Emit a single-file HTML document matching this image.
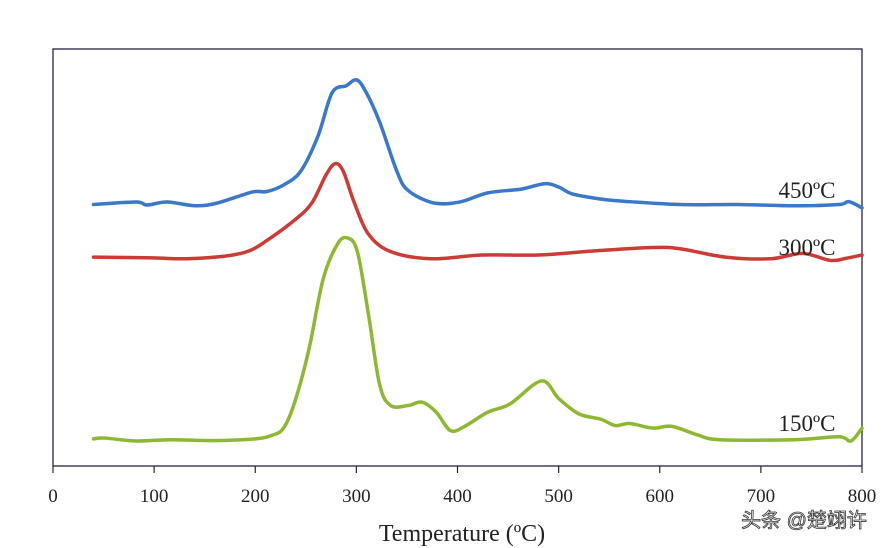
<!DOCTYPE html>
<html><head><meta charset="utf-8"><style>
html,body{margin:0;padding:0;background:#fff;}
svg{display:block;}
</style></head><body>
<svg id="chart" width="890" height="548" xmlns="http://www.w3.org/2000/svg">
<rect x="0" y="0" width="890" height="548" fill="#fff"/>
<rect x="53" y="49" width="809" height="417" fill="none" stroke="#2a2040" stroke-width="1.3"/>
<g id="ticks"></g>
<g id="series"></g>
<text x="462" y="541" text-anchor="middle" font-family="Liberation Serif, serif" font-size="24" fill="#222">Temperature (ºC)</text>
<text x="807" y="198" text-anchor="middle" font-family="Liberation Serif, serif" font-size="23" fill="#222">450ºC</text>
<text x="807" y="255" text-anchor="middle" font-family="Liberation Serif, serif" font-size="23" fill="#222">300ºC</text>
<text x="807" y="431" text-anchor="middle" font-family="Liberation Serif, serif" font-size="23" fill="#222">150ºC</text>
<text x="804" y="527" text-anchor="middle" font-family="Liberation Sans, Noto Sans CJK SC, sans-serif" font-size="20" fill="#fff" stroke="#333" stroke-width="0.8">头条 @楚翊许</text>
</svg>
<script>
const xTicks = [0,100,200,300,400,500,600,700,800];
const blueT = [40,82,93,113,141,163,197,211,228,245,262,276,290,300,309,323,340,351,376,402,430,463,486,500,514,542,564,620,677,733,777,787,800];
const blueV = [62.7,63.3,62.6,63.3,62.4,63.1,65.7,65.8,67.4,70.7,79.1,89.5,91.2,92.6,89.9,82.5,70.7,66.1,63.1,63.3,65.5,66.4,67.7,66.9,65.2,64.0,63.5,62.7,62.7,62.4,62.7,63.4,61.9];
const redT = [40,99,132,172,194,211,239,256,270,279,287,298,312,334,374,424,480,536,592,620,665,710,741,769,786,800];
const redV = [50.1,49.9,49.7,50.4,51.6,54.0,59.0,63.1,69.8,72.5,70.7,63.1,55.6,51.4,49.7,50.6,50.6,51.6,52.4,52.1,50.1,49.7,51.0,49.3,49.9,50.6];
const greenT = [40,51,82,116,160,200,217,228,239,253,267,281,291,301,312,323,334,351,365,379,393,407,430,452,483,500,520,542,556,570,593,612,638,660,733,777,789,800];
const greenV = [6.5,6.7,6.0,6.3,6.1,6.5,7.4,9.1,15.3,27.9,44.7,53.1,54.7,51.4,36.3,19.5,14.5,14.5,15.3,12.9,8.5,9.5,12.9,14.9,20.4,16.2,12.5,11.2,9.7,10.2,9.1,9.5,7.4,6.3,6.3,7.0,6.0,9.1];

const NS = "http://www.w3.org/2000/svg";
function xs(t){ return 53 + (t/800)*809; }
function ys(v){ return 466 - (v/100)*417; }

const tg = document.getElementById('ticks');
xTicks.forEach(t=>{
  const l = document.createElementNS(NS,'line');
  l.setAttribute('x1',xs(t)); l.setAttribute('x2',xs(t));
  l.setAttribute('y1',466); l.setAttribute('y2',473);
  l.setAttribute('stroke','#2a2040'); l.setAttribute('stroke-width','1.2');
  
  
  tg.appendChild(l);
  const tx = document.createElementNS(NS,'text');
  tx.setAttribute('x',xs(t)); tx.setAttribute('y',502);
  tx.setAttribute('text-anchor','middle');
  tx.setAttribute('font-family','Liberation Serif, serif');
  tx.setAttribute('font-size','19'); tx.setAttribute('fill','#222');
  tx.textContent = t;
  
  
  tg.appendChild(tx);
});

function pathFor(T,V){
  const p = T.map((t,i)=>[xs(t),ys(V[i])]);
  let d = 'M'+p[0][0]+','+p[0][1];
  for(let i=0;i<p.length-1;i++){
    const p0=p[i-1]||p[i], p1=p[i], p2=p[i+1], p3=p[i+2]||p[i+1];
    const c1x=p1[0]+(p2[0]-p0[0])/6, c1y=p1[1]+(p2[1]-p0[1])/6;
    const c2x=p2[0]-(p3[0]-p1[0])/6, c2y=p2[1]-(p3[1]-p1[1])/6;
    d+=' C'+c1x+','+c1y+' '+c2x+','+c2y+' '+p2[0]+','+p2[1];
  }
  return d;
}
const sg = document.getElementById('series');
function addSeries(T,V,color,name){
  const p = document.createElementNS(NS,'path');
  p.setAttribute('d',pathFor(T,V));
  p.setAttribute('fill','none'); p.setAttribute('stroke',color);
  p.setAttribute('stroke-width','3.5'); p.setAttribute('stroke-linejoin','round');
  p.setAttribute('stroke-linecap','round');
  
  
  sg.appendChild(p);
}
addSeries(blueT,blueV,'#3a78cc','series-450c');
addSeries(redT,redV,'#cc3b35','series-300c');
addSeries(greenT,greenV,'#8cb832','series-150c');
</script>
</body></html>
